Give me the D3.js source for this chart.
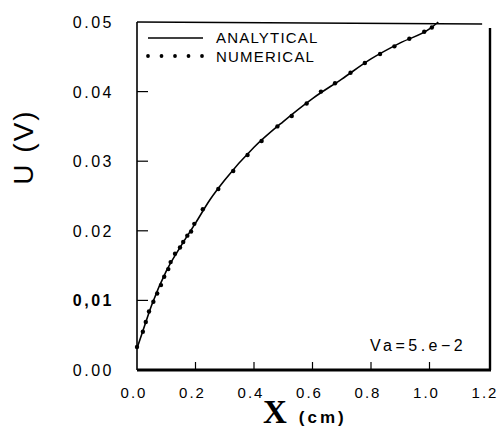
<!DOCTYPE html>
<html>
<head>
<meta charset="utf-8">
<script src="https://cdn.jsdelivr.net/npm/d3@7"></script>
<style>
  html, body { margin: 0; padding: 0; background: #fff; }
  svg { display: block; }
  text { font-family: "Liberation Sans", Arial, sans-serif; fill: #000; }
</style>
</head>
<body>
<svg id="chart" width="500" height="431"></svg>
<script>
// Potential U along the electrode, X in cm
const xTicks = [0.0, 0.2, 0.4, 0.6, 0.8, 1.0, 1.2];
const xTickLabels = ["0.0", "0.2", "0.4", "0.6", "0.8", "1.0", "1.2"];
const yTicks = [0.00, 0.01, 0.02, 0.03, 0.04, 0.05];
const yTickLabels = ["0.00", "0,01", "0.02", "0.03", "0.04", "0.05"];

// Analytical solution (solid curve)
const analyticalX = [0.0, 0.02, 0.05, 0.10, 0.15, 0.20, 0.25, 0.30, 0.40, 0.50, 0.60, 0.70, 0.80, 0.90, 1.00, 1.03];
const analyticalU = [0.0031, 0.0056, 0.0093, 0.0142, 0.0178, 0.0211, 0.0245, 0.0273, 0.0320, 0.0357, 0.0390, 0.0418, 0.0447, 0.0470, 0.0490, 0.0500];

// Numerical solution (dots)
const numericalX = [0.0, 0.020, 0.030, 0.041, 0.056, 0.069, 0.082, 0.093, 0.107, 0.115, 0.130, 0.147, 0.158, 0.172, 0.185, 0.196,
                    0.225, 0.278, 0.329, 0.378, 0.426, 0.480, 0.529, 0.580, 0.629, 0.677, 0.730, 0.779, 0.831, 0.880, 0.931, 0.982, 1.008];
const numericalU = [0.0033, 0.0055, 0.0069, 0.0084, 0.0098, 0.0110, 0.0122, 0.0134, 0.0145, 0.0155, 0.0167, 0.0176, 0.0184, 0.0193, 0.0199, 0.0210,
                    0.0231, 0.0260, 0.0286, 0.0309, 0.0329, 0.0350, 0.0365, 0.0383, 0.0400, 0.0412, 0.0427, 0.0441, 0.0454, 0.0465, 0.0476, 0.0486, 0.0492];

const svg = d3.select("#chart");
const x = d3.scaleLinear().domain([0, 1.2]).range([137, 488]);
const y = d3.scaleLinear().domain([0, 0.05]).range([370, 22]);

// Frame
const frame = svg.append("g").attr("stroke", "#000").attr("fill", "none");
frame.append("line").attr("x1", x(0)).attr("x2", x(0)).attr("y1", y(0.05)).attr("y2", y(0)).attr("stroke-width", 1.6);
frame.append("line").attr("x1", x(0)).attr("x2", x(1.2) + 3).attr("y1", y(0)).attr("y2", y(0)).attr("stroke-width", 3);
frame.append("line").attr("x1", x(0)).attr("x2", x(1.18)).attr("y1", y(0.05)).attr("y2", y(0.05) + 2).attr("stroke-width", 1.6);
frame.append("line").attr("x1", x(1.2) + 2).attr("x2", x(1.2) + 2).attr("y1", y(0.05) + 6).attr("y2", y(0)).attr("stroke-width", 2.4);

// Tick marks (inward)
frame.selectAll(".ytick").data(yTicks.filter(d => d > 0 && d < 0.05)).join("line")
  .attr("x1", x(0)).attr("x2", x(0) + 11).attr("y1", d => y(d)).attr("y2", d => y(d)).attr("stroke-width", 1.2);
frame.selectAll(".xtick").data(xTicks.filter(d => d > 0 && d < 1.2)).join("line")
  .attr("x1", d => x(d)).attr("x2", d => x(d)).attr("y1", y(0)).attr("y2", y(0) - 8).attr("stroke-width", 1.2);

// Tick labels
svg.append("g").selectAll("text").data(xTicks).join("text")
  .attr("x", d => x(d) - 3).attr("y", 398)
  .attr("text-anchor", "middle").attr("font-size", 15).attr("letter-spacing", 2)
  .text((d, i) => xTickLabels[i]);
svg.append("g").selectAll("text").data(yTicks).join("text")
  .attr("x", 114).attr("y", d => y(d) + 6)
  .attr("text-anchor", "end").attr("font-size", 16).attr("letter-spacing", 2.5)
  .attr("font-weight", (d, i) => yTickLabels[i] === "0,01" ? "bold" : "normal")
  .text((d, i) => yTickLabels[i]);

// Axis titles
svg.append("text").attr("transform", "translate(33,147) rotate(-90)")
  .attr("text-anchor", "middle").attr("font-size", 28).attr("letter-spacing", 2).text("U (V)");
const xt = svg.append("text").attr("x", 263).attr("y", 423);
xt.append("tspan").attr("font-family", "'Liberation Serif', 'Times New Roman', serif")
  .attr("font-weight", "bold").attr("font-size", 33).text("X");
xt.append("tspan").attr("dx", 12).attr("font-weight", "bold").attr("font-size", 17)
  .attr("letter-spacing", 3).text("(cm)");

// Analytical curve
const line = d3.line().x(d => x(d[0])).y(d => y(d[1])).curve(d3.curveMonotoneX);
svg.append("path").datum(analyticalX.map((v, i) => [v, analyticalU[i]]))
  .attr("d", line).attr("fill", "none").attr("stroke", "#000").attr("stroke-width", 1.6);

// Numerical points
svg.append("g").selectAll("circle").data(numericalX.map((v, i) => [v, numericalU[i]])).join("circle")
  .attr("cx", d => x(d[0])).attr("cy", d => y(d[1])).attr("r", 2.2).attr("fill", "#000");

// Legend
const lg = svg.append("g");
lg.append("line").attr("x1", 148).attr("x2", 203).attr("y1", 38).attr("y2", 38).attr("stroke", "#000").attr("stroke-width", 1.3);
lg.selectAll("circle").data(d3.range(5)).join("circle")
  .attr("cx", i => 148 + i * 13.5).attr("cy", 56).attr("r", 1.9).attr("fill", "#000");
lg.append("text").attr("x", 216).attr("y", 43).attr("font-size", 15).attr("letter-spacing", 1.2).text("ANALYTICAL");
lg.append("text").attr("x", 216).attr("y", 62).attr("font-size", 15).attr("letter-spacing", 1.2).text("NUMERICAL");

// Parameter annotation
svg.append("text").attr("x", 370).attr("y", 351).attr("font-size", 16).attr("letter-spacing", 3.5).text("Va=5.e\u22122");
</script>
</body>
</html>
